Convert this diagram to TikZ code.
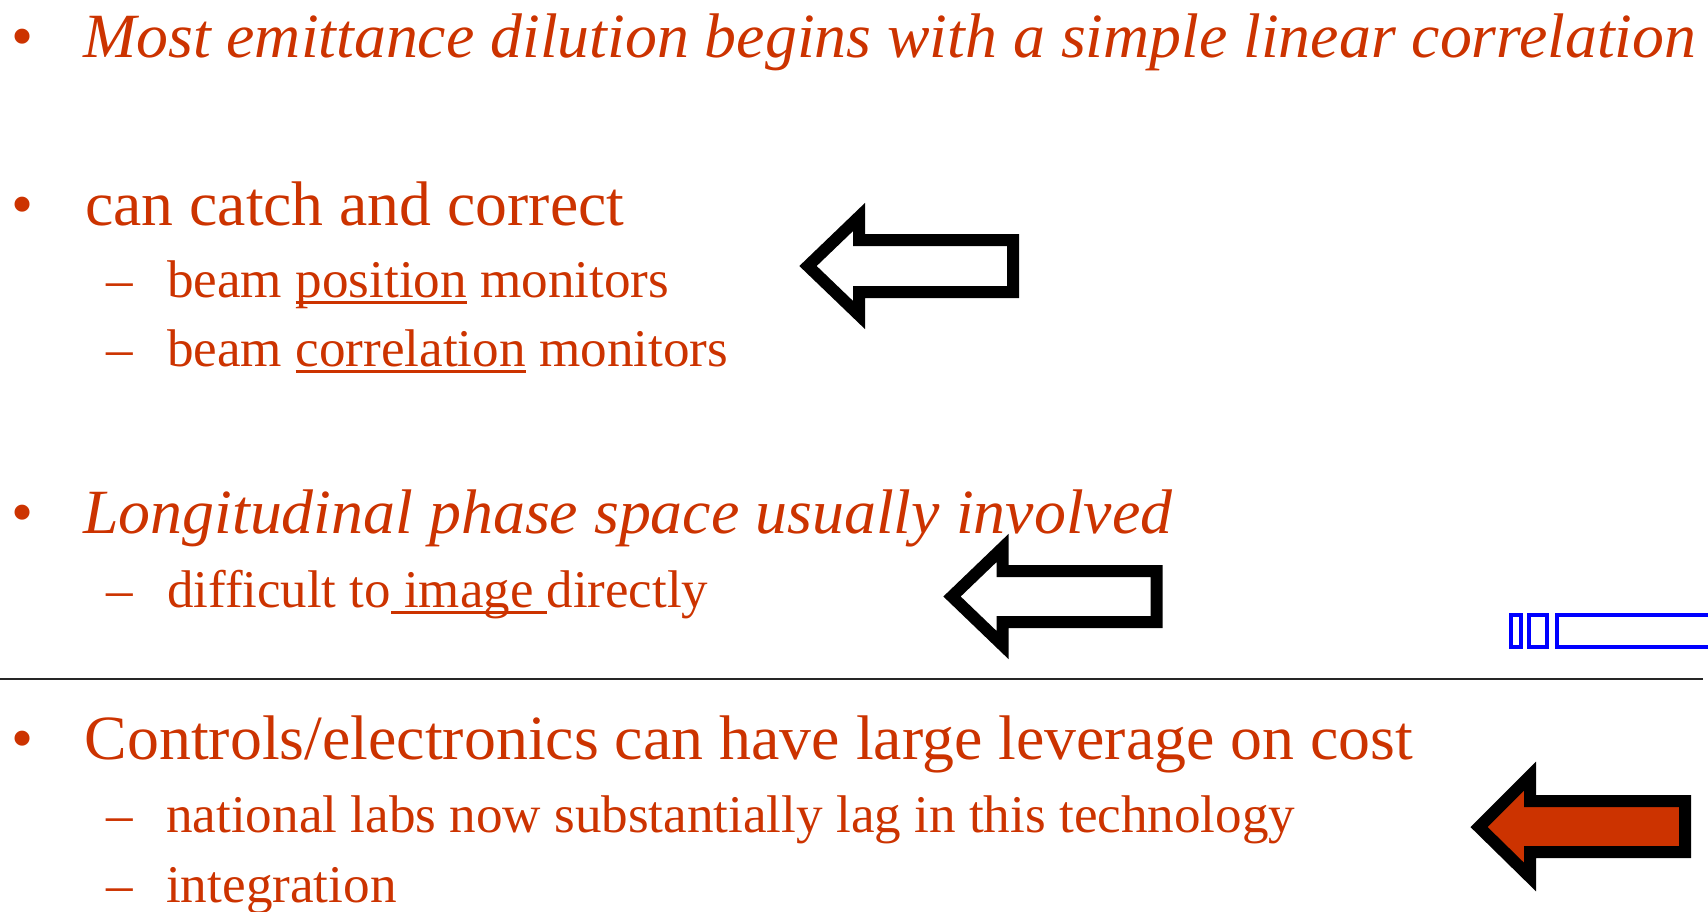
\documentclass[tikz,border=0pt]{standalone}
\usepackage{fontspec}
\setmainfont{Liberation Serif}
\usepackage{graphicx}

\definecolor{slidered}{RGB}{204,51,0}
\definecolor{boxblue}{RGB}{0,0,255}

% squeeze a line of text to a given width (in pt), height unchanged
\newcommand\fitw[2]{\resizebox{#1pt}{\height}{#2}}
% underline with a fixed rule just below the baseline
\newcommand\ulx[1]{\setbox0\hbox{#1}\rlap{\rule[-6.5pt]{\wd0}{3pt}}\box0\relax}

\tikzset{
  maintext/.style={anchor=base west, inner sep=0pt, text=slidered,
    font=\fontsize{63}{70}\selectfont},
  subtext/.style={anchor=base west, inner sep=0pt, text=slidered,
    font=\fontsize{53}{60}\selectfont},
  bigarrow/.style={draw=black, line width=12pt, line join=miter, miter limit=10},
  blueline/.style={draw=boxblue, line width=4pt},
}

\begin{document}
\begin{tikzpicture}[x=1pt, y=-1pt]
\useasboundingbox (0,0) rectangle (1708,911);

% first block
\node[maintext] (b1) at (11,57) {•};
\node[maintext] (l1) at (83,57) {\fitw{1613}{\itshape Most emittance dilution begins with a simple linear correlation}};

% second block
\node[maintext] (b2) at (11,225) {•};
\node[maintext] (l2) at (85,225) {\fitw{539}{can catch and correct}};
\node[subtext] (d3) at (106,297) {–};
\node[subtext] (l3) at (167,297) {\fitw{502}{beam \ulx{position} monitors}};
\node[subtext] (d4) at (106,366) {–};
\node[subtext] (l4) at (167,366) {\fitw{561}{beam \ulx{correlation} monitors}};

% third block
\node[maintext] (b5) at (11,533.5) {•};
\node[maintext] (l5) at (83,533.5) {\fitw{1089}{\itshape Longitudinal phase space usually involved}};
\node[subtext] (d6) at (106,607) {–};
\node[subtext] (l6) at (167,607) {\fitw{541}{difficult to\ulx{ image }directly}};

% separator rule
\coordinate (ruleL) at (0,679);
\coordinate (ruleR) at (1703,679);
\draw[line width=1.6pt, black!85] (ruleL) -- (ruleR);

% fourth block
\node[maintext] (b7) at (11,759.5) {•};
\node[maintext] (l7) at (84.5,759.5) {\fitw{1328.5}{Controls/electronics can have large leverage on cost}};
\node[subtext] (d8) at (106,832) {–};
\node[subtext] (l8) at (166,832) {\fitw{1129}{national labs now substantially lag in this technology}};
\node[subtext] (d9) at (106,902) {–};
\node[subtext] (l9) at (166,902) {\fitw{230.5}{integration}};

% block arrows pointing left
\draw[bigarrow] (808,266) -- (859,217) -- (859,240) -- (1013,240)
  -- (1013,292) -- (859,292) -- (859,315) -- cycle;
\draw[bigarrow] (952,596.5) -- (1002.5,548) -- (1002.5,571) -- (1156.5,571)
  -- (1156.5,622) -- (1002.5,622) -- (1002.5,645) -- cycle;
\draw[bigarrow, fill=slidered] (1479,827) -- (1530,776) -- (1530,801) -- (1685,801)
  -- (1685,852) -- (1530,852) -- (1530,877) -- cycle;

% blue outlined boxes at the right edge
\draw[blueline] (1511.3,615.3) rectangle (1520.7,647.3);
\draw[blueline] (1529.3,615.3) rectangle (1547.3,647.3);
\draw[blueline] (1708,615.3) -- (1556.7,615.3) -- (1556.7,647.3) -- (1708,647.3);
\end{tikzpicture}
\end{document}
